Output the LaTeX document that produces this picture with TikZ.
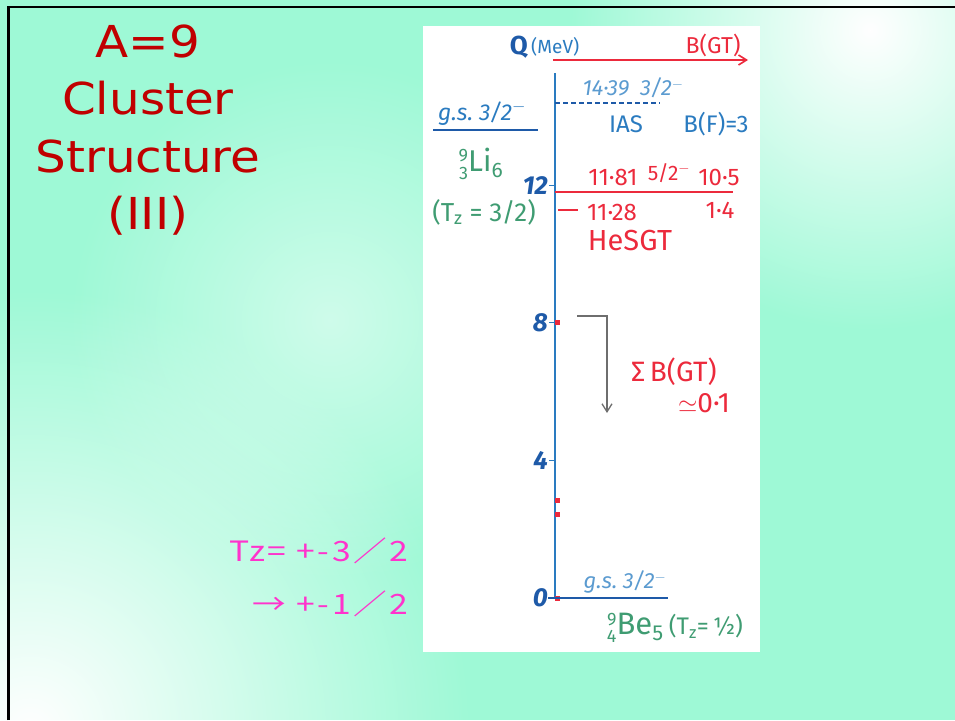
\documentclass[tikz,border=0pt]{standalone}
\usepackage{amsmath,graphicx,fontspec}
\usetikzlibrary{arrows.meta,positioning,fadings}
\setmainfont{Fira Sans}
\newfontfamily\jpfont{Noto Sans CJK JP}
\newfontfamily\ttlfont{DejaVu Sans}
\definecolor{Mint}{HTML}{9EF9D6}
\definecolor{Tc}{HTML}{C00000}
\definecolor{Pk}{HTML}{FF33CC}
\definecolor{Ax}{HTML}{2A7BC0}
\definecolor{Bd}{HTML}{1E5AA8}
\definecolor{Lb}{HTML}{5B9BD0}
\definecolor{Rd}{HTML}{EC2A3C}
\definecolor{Gn}{HTML}{3F9C72}
\definecolor{Gy}{HTML}{6E6E6E}
\tikzfading[name=blobfade, inner color=transparent!0, outer color=transparent!100]
\tikzset{
  axis/.style={Ax, line width=1.8pt},
  tk/.style={Ax, line width=1pt},
  redlvl/.style={Rd, line width=1.8pt},
  bluelvl/.style={Bd, line width=2pt},
  rdot/.style={rectangle, fill=Rd, inner sep=0pt, minimum size=5pt},
  numlbl/.style={Bd, font=\fontsize{26}{26}\selectfont\bfseries\itshape},
  bluelbl/.style={Ax, font=\fontsize{24}{24}\selectfont},
  lightlbl/.style={Lb, font=\fontsize{22}{22}\selectfont\itshape},
  redlbl/.style={Rd, font=\fontsize{24}{24}\selectfont},
  greenlbl/.style={Gn, font=\fontsize{26}{26}\selectfont},
  barb/.style={-{Straight Barb[length=8pt,width=10pt]}},
}
\newcommand{\Ey}[1]{598-34.4*#1}
\newcommand{\nuc}[4]{\raisebox{-8pt}{\fontsize{18}{18}\selectfont\shortstack[r]{#1\\[2pt]#2}}#3$_{\text{#4}}$}
\newcommand{\wide}[1]{\scalebox{1.1}[1]{#1}}
\newcommand{\pk}[1]{\scalebox{1.2}[1]{\addfontfeatures{LetterSpace=8}#1}}

\begin{document}
\begin{tikzpicture}[x=1pt, y=-1pt]
  \useasboundingbox (0,0) rectangle (955,720);
  \fill[Mint] (0,0) rectangle (955,720);
  \fill[white, path fading=blobfade] (870,30) circle (300);
  \fill[white, path fading=blobfade] (30,730) circle (440);
  \fill[white, path fading=blobfade, opacity=0.5] (330,320) circle (260);
  \draw[line width=2.5pt] (8.5,720) -- (8.5,7) -- (955,7);
  \node[Tc, font=\ttlfont\fontsize{44}{57.5}\selectfont, align=center] (title) at (148,130)
    {\wide{A=9}\\\wide{Cluster}\\\wide{Structure}\\\wide{(III)}};
  \node[Pk, font=\jpfont\fontsize{28}{53}\selectfont, align=right, anchor=east] (tz) at (412,577)
    {\pk{Tz= +-3／2}\\\pk{→ +-1／2}};
  \fill[white] (423,26) rectangle (760,652);
  \node[Bd, font=\fontsize{26}{26}\selectfont\bfseries, anchor=east, inner sep=1pt] (qlab) at (529,47) {Q};
  \node[Ax, font=\fontsize{19}{19}\selectfont, right=1pt of qlab, inner sep=1pt] (mev) {(MeV)};
  \node[redlbl, font=\fontsize{23}{23}\selectfont] (bgt) at (713,45) {B(GT)};
  \coordinate (arL) at (553,60);
  \coordinate (arR) at (748,60);
  \draw[Rd, line width=1.6pt, barb] (arL) -- (arR);
  \coordinate (axtop) at (555,73);
  \coordinate (axbot) at (555,598);
  \draw[axis] (axtop) -- (axbot);
  \foreach \e/\lab in {0/0,4/4,8/8,12/12}{
    \coordinate (t\e) at (555,{\Ey{\e}});
    \coordinate (s\e) at (549,{\Ey{\e}});
    \draw[tk] (s\e) -- (t\e);
    \node[numlbl, anchor=east, inner sep=1pt] (n\e) at (s\e) {\lab};
  }
  \coordinate (ias1) at (555,{\Ey{14.39}});
  \coordinate (ias2) at (660,{\Ey{14.39}});
  \draw[Bd, line width=1.8pt, dash pattern=on 5pt off 3pt] (ias1) -- (ias2);
  \node[lightlbl] (e1439) at (633,88) {14·39\enspace 3/2$^{-}$};
  \node[bluelbl] (ias) at (626,124) {IAS};
  \node[bluelbl] (bf) at (716,124) {B(F)=3};
  \coordinate (l1181a) at (555,{\Ey{11.81}});
  \coordinate (l1181b) at (733,{\Ey{11.81}});
  \draw[redlvl] (l1181a) -- (l1181b);
  \node[redlbl, inner sep=1pt] (e1181) at (613,177) {11·81};
  \node[redlbl, font=\fontsize{21}{21}\selectfont, inner sep=1pt] (j1181) at (669,173) {5/2$^{-}$};
  \node[redlbl, inner sep=1pt] (b1181) at (719,177) {10·5};
  \coordinate (l1128a) at (558,{\Ey{11.28}});
  \coordinate (l1128b) at (578,{\Ey{11.28}});
  \draw[redlvl] (l1128a) -- (l1128b);
  \node[redlbl] (e1128) at (612,212) {11·28};
  \node[redlbl] (b1128) at (720,210) {1·4};
  \node[redlbl, font=\fontsize{29}{29}\selectfont] (hesgt) at (630,241) {HeSGT};
  \node[rdot] (d8) at (557,{\Ey{8}}) {};
  \node[rdot] (d29) at (557,500) {};
  \node[rdot] (d25) at (557,514) {};
  \node[rdot] (d0) at (557,{\Ey{0}}) {};
  \coordinate (gy1) at (577,316);
  \coordinate (gy2) at (607,316);
  \coordinate (gy3) at (607,413);
  \draw[Gy, line width=1.3pt, barb] (gy1) -- (gy2) -- (gy3);
  \node[redlbl, font=\fontsize{28}{28}\selectfont] (sbgt) at (674,372) {Σ\,B(GT)};
  \node[redlbl, font=\fontsize{28}{28}\selectfont] (sum) at (704,403) {$\simeq$0·1};
  \coordinate (gsL) at (548,{\Ey{0}});
  \coordinate (gsR) at (668,{\Ey{0}});
  \draw[bluelvl] (gsL) -- (gsR);
  \node[lightlbl, inner sep=1pt] (gsbe) at (625,582) {g.s.\ 3/2$^{-}$};
  \node[greenlbl, font=\fontsize{31}{31}\selectfont, inner sep=0pt] (be) at (675,628)
    {\nuc{9}{4}{Be}{5}\,{\fontsize{24}{24}\selectfont(T$_{\text{z}}$=\,½)}};
  \node[bluelbl, font=\fontsize{23}{23}\selectfont\itshape, inner sep=1pt] (gsli) at (482,113) {g.s.\ 3/2$^{-}$};
  \coordinate (gliL) at (433,130);
  \coordinate (gliR) at (538,130);
  \draw[bluelvl] (gliL) -- (gliR);
  \node[greenlbl, font=\fontsize{30}{30}\selectfont, inner sep=0pt] (li) at (481,164) {\nuc{9}{3}{Li}{6}};
  \node[greenlbl, inner sep=1pt] (tzli) at (484,212) {(T$_{\text{z}}$ = 3/2)};
\end{tikzpicture}
\end{document}
